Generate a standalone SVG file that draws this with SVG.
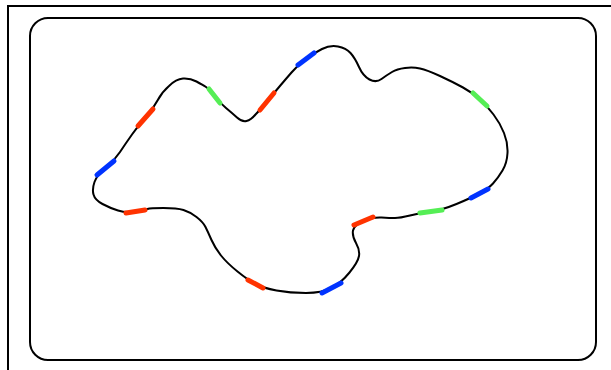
<svg xmlns="http://www.w3.org/2000/svg" width="611" height="370" viewBox="0 0 611 370">
<style>
.frame{fill:none;stroke:#000;stroke-width:2}
.curve{fill:none;stroke:#000;stroke-width:2;stroke-linejoin:round}
.seg{stroke-width:5;stroke-linecap:round;fill:none}
.r{stroke:#ff3300}.b{stroke:#0033ff}.g{stroke:#55ee55}
</style>
<rect width="611" height="370" fill="#fff"/>
<g id="frame">
<path class="frame" d="M7,6 H611 M8,6 V370"/>
</g>
<g id="panel">
<rect class="frame" x="30" y="18" width="566" height="342" rx="18"/>
</g>
<g id="loop">
<path class="curve" d="M93.5,194.5 Q92,189 94.5,182 Q97,175 105.5,168 Q114,161 120,152 Q126,143 132,134.5 Q138,126 145.5,117.5 Q153,109 157.5,100.5 Q162,92 169,86 Q176,79 183,78.5 Q190,78 196.5,81.5 Q203,85 206,87 Q209,89 214.5,96 Q220,103 226,108 Q232,113 237,117.5 Q242,122 246.5,121 Q251,120 255.5,114.5 Q260,110 267,101.5 Q274,93 279.5,86.5 Q285,80 291.5,72.5 Q298,65 306,59 Q314,53 322,49 Q330,45 338,46.5 Q346,48 350.5,53 Q355,58 359,67 Q363,76 369.5,79.5 Q376,83 381.5,79 Q387,75 392,72 Q397,69 405,68 Q413,67 420,68.5 Q427,70 440,76 Q453,82 463,87.5 Q473,93 480,99.5 Q487,106 493.5,114.5 Q500,123 504,133 Q508,143 507.5,153 Q507,163 502.5,170.5 Q498,178 493,183.5 Q488,189 479.5,193.5 Q471,198 456.5,204 Q442,210 431,211.5 Q420,213 410,215.5 Q400,218 395,218 Q390,218 381.5,217.5 Q373,217 363.5,221 Q354,225 353,230.5 Q352,236 356,243 Q360,250 359,256 Q358,262 349.5,272.5 Q341,283 331.5,288 Q322,293 306,293 Q290,293 276.5,290.5 Q263,288 255.5,284 Q248,280 237.5,271.5 Q227,263 221,255.5 Q215,248 211.5,240 Q208,232 205.5,227 Q203,222 196.5,217 Q190,212 183.5,210 Q177,208 163.5,208 Q150,208 147.5,209 Q145,210 135.5,211.5 Q126,213 118,210.5 Q110,208 102.5,204 Q95,200 93.5,194.5 Z"/>
</g>
<g id="marks">
<line class="seg b" x1="97" y1="175" x2="114" y2="161"/>
<line class="seg r" x1="138" y1="126" x2="153" y2="109"/>
<line class="seg g" x1="209" y1="89" x2="220" y2="103"/>
<line class="seg r" x1="260" y1="110" x2="274" y2="93"/>
<line class="seg b" x1="298" y1="65" x2="314" y2="53"/>
<line class="seg g" x1="473" y1="93" x2="487" y2="106"/>
<line class="seg b" x1="488" y1="189" x2="471" y2="198"/>
<line class="seg g" x1="442" y1="210" x2="420" y2="213"/>
<line class="seg r" x1="373" y1="217" x2="354" y2="225"/>
<line class="seg b" x1="341" y1="283" x2="322" y2="293"/>
<line class="seg r" x1="263" y1="288" x2="248" y2="280"/>
<line class="seg r" x1="145" y1="210" x2="126" y2="213"/>
</g>
</svg>
